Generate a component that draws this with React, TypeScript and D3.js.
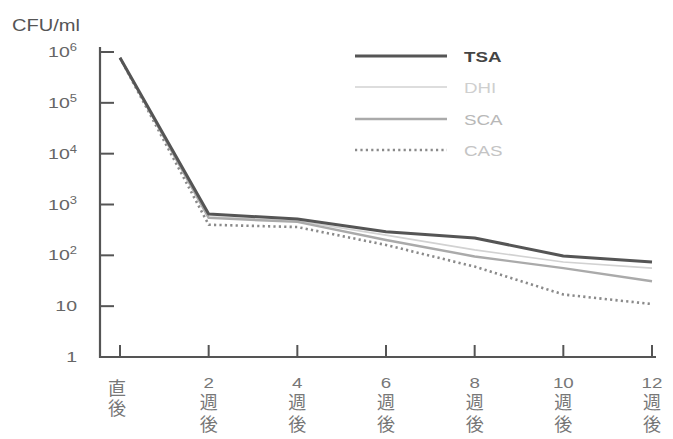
import React from "react";
import * as d3 from "d3";

const categories = ["直後", "2", "4", "6", "8", "10", "12"];
const tsa = [770000, 650, 520, 290, 220, 97, 74];
const dhi = [770000, 570, 475, 250, 128, 74, 56];
const sca = [770000, 545, 455, 200, 95, 56, 31];
const cas = [770000, 400, 360, 160, 60, 17, 11];
const yTicks = [1, 10, 100, 1000, 10000, 100000, 1000000];
const seriesNames = ["TSA", "DHI", "SCA", "CAS"];

const W = 673, H = 439;

export default function App() {
  const x = d3.scalePoint<string>().domain(categories).range([120, 652]);
  const y = d3.scaleLog().domain([1, 1000000]).range([357, 52]);
  const line = d3
    .line<number>()
    .x((_, i) => x(categories[i]) as number)
    .y((d) => y(d));

  const styles = [
    { stroke: "#555", width: 3, dash: undefined, text: "#444", weight: 700 },
    { stroke: "#d2d2d2", width: 1.6, dash: undefined, text: "#cfcfcf", weight: 400 },
    { stroke: "#aaa", width: 2.4, dash: undefined, text: "#b8b8b8", weight: 400 },
    { stroke: "#8a8a8a", width: 2.6, dash: "2.2 3.2", text: "#c4c4c4", weight: 400 },
  ];
  const data = [tsa, dhi, sca, cas];
  const legendY = [56, 87, 119, 150];
  const font = "'Liberation Sans', Arial, sans-serif";
  const cjk = "'Noto Sans CJK JP', sans-serif";

  const yLabel = (v: number) => {
    if (v === 1) return <tspan>1</tspan>;
    if (v === 10) return <tspan>10</tspan>;
    const e = Math.round(Math.log10(v));
    return (
      <>
        <tspan>10</tspan>
        <tspan dy={-6} fontSize={10}>{e}</tspan>
      </>
    );
  };

  const vStyle = (ls: number): React.CSSProperties => ({
    writingMode: "vertical-rl" as any,
    textOrientation: "upright" as any,
    letterSpacing: `${ls}px`,
  });

  return (
    <svg width={W} height={H} style={{ position: "absolute", left: 0, top: 0, background: "#fff" }}>
      <rect width={W} height={H} fill="#fff" />
      <text x={12} y={31} fontFamily={font} fontSize={16} fill="#555" textLength={68} lengthAdjust="spacingAndGlyphs">CFU/ml</text>
      {/* axes */}
      <path d={`M100,47 V357 H656`} fill="none" stroke="#555" strokeWidth={2.2} />
      {yTicks.slice(1).map((t) => (
        <line key={t} x1={100} x2={114} y1={y(t)} y2={y(t)} stroke="#555" strokeWidth={2} />
      ))}
      {yTicks.map((t) => (
        <g key={"l" + t} transform={`translate(77,${y(t) + 5}) scale(1.3,1)`}>
          <text x={0} y={0} textAnchor="end" fontFamily={font} fontSize={15} fill="#666">
            {yLabel(t)}
          </text>
        </g>
      ))}
      {categories.map((c) => (
        <line key={c} x1={x(c)} x2={x(c)} y1={357} y2={345} stroke="#555" strokeWidth={2} />
      ))}
      {categories.map((c, i) => {
        const cx = x(c) as number;
        if (i === 0) {
          return (
            <text key={"x" + c} x={cx - 3} y={379} fill="#777" fontSize={18} fontFamily={cjk} style={vStyle(2)}>
              {c}
            </text>
          );
        }
        return (
          <g key={"x" + c} fill="#777">
            <g transform={`translate(${cx},388) scale(1.25,1)`}>
              <text x={0} y={0} textAnchor="middle" fontFamily={font} fontSize={15}>{c}</text>
            </g>
            <text x={cx} y={393} fontFamily={cjk} fontSize={18} style={vStyle(4.5)}>週後</text>
          </g>
        );
      })}
      {/* lines, draw light ones first */}
      {[3, 1, 2, 0].map((k) => (
        <path
          key={"s" + k}
          d={line(data[k]) || ""}
          fill="none"
          stroke={styles[k].stroke}
          strokeWidth={styles[k].width}
          strokeDasharray={styles[k].dash}
          strokeLinejoin="round"
        />
      ))}
      {/* legend */}
      {seriesNames.map((n, k) => (
        <g key={"lg" + n}>
          <line
            x1={355}
            x2={447}
            y1={legendY[k]}
            y2={legendY[k]}
            stroke={styles[k].stroke}
            strokeWidth={styles[k].width}
            strokeDasharray={styles[k].dash}
          />
          <g transform={`translate(464,${legendY[k] + 6}) scale(1.25,1)`}>
            <text
              x={0}
              y={0}
              fontFamily={font}
              fontSize={15}
              fontWeight={styles[k].weight}
              fill={styles[k].text}
            >
              {n}
            </text>
          </g>
        </g>
      ))}
    </svg>
  );
}
